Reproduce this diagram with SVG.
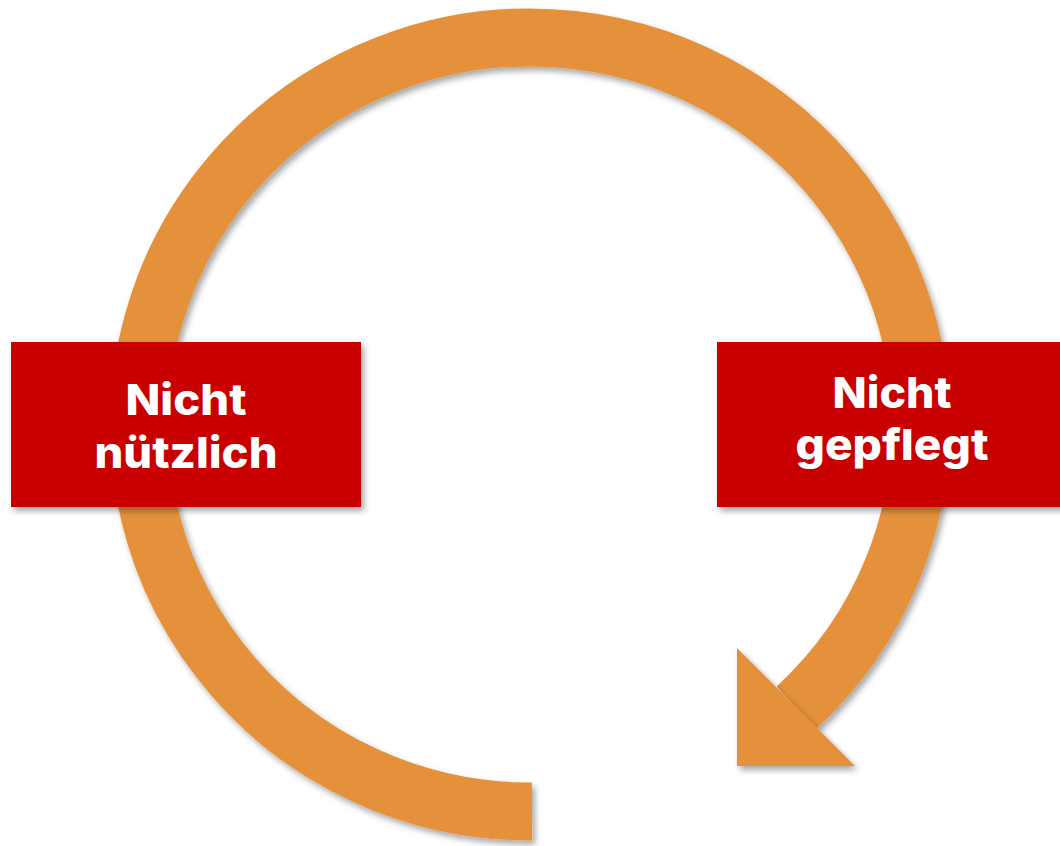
<svg xmlns="http://www.w3.org/2000/svg" width="1060" height="846" viewBox="0 0 1060 846">
  <defs>
    <filter id="sh" x="-10%" y="-10%" width="120%" height="120%">
      <feDropShadow dx="3" dy="4" stdDeviation="3" flood-color="#000" flood-opacity="0.35"/>
    </filter>
    <style>
      .arc { fill: none; stroke: #E5913A; stroke-width: 58; stroke-linecap: butt; }
      .head { fill: #E5913A; }
      .box { fill: #C80000; }
      .lbl { font-family: Inter, "Noto Sans", "Liberation Sans", sans-serif; font-weight: 800; font-size: 43px; fill: #FFFFFF; text-anchor: middle; }
    </style>
  </defs>
  <rect width="1060" height="846" fill="#FFFFFF"/>
  <g id="connectors">
    <path class="arc" filter="url(#sh)" d="M 532 811.5 A 391 387 0 1 1 796.3 707.8"/>
    <polygon class="head" filter="url(#sh)" points="737,648 737,766 855,766"/>
  </g>
  <g id="node-nicht-nuetzlich">
    <rect class="box" filter="url(#sh)" x="11" y="342" width="350" height="165"/>
    <text class="lbl" x="186" y="415" textLength="121" lengthAdjust="spacingAndGlyphs">Nicht</text>
    <text class="lbl" x="186" y="468" textLength="183" lengthAdjust="spacingAndGlyphs">nützlich</text>
  </g>
  <g id="node-nicht-gepflegt">
    <rect class="box" filter="url(#sh)" x="717" y="342" width="350" height="165"/>
    <text class="lbl" x="892" y="408" textLength="119" lengthAdjust="spacingAndGlyphs">Nicht</text>
    <text class="lbl" x="892" y="460" textLength="193" lengthAdjust="spacingAndGlyphs">gepflegt</text>
  </g>
</svg>
